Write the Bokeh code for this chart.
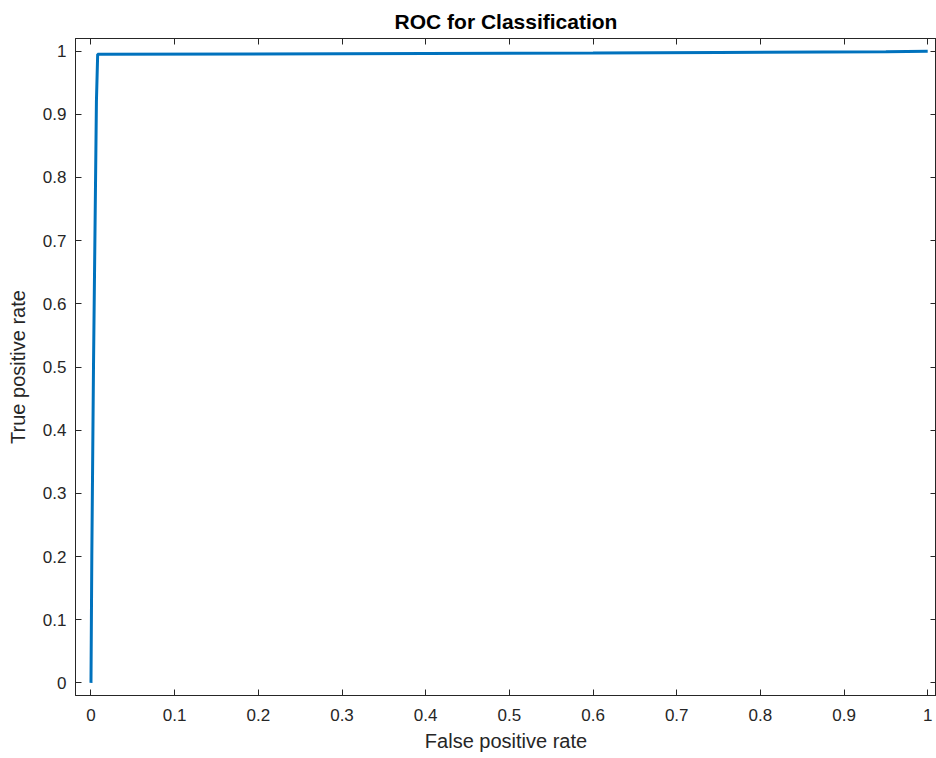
from bokeh.plotting import figure
from bokeh.models import Range1d, LinearAxis, FixedTicker
from bokeh.embed import file_html
from bokeh.resources import INLINE

# ROC curve points (false positive rate, true positive rate)
fpr = [0.0, 0.001, 0.003, 0.0065, 0.008, 0.3, 0.6, 0.75, 0.95, 1.0]
tpr = [0.0, 0.2, 0.5, 0.92, 0.995, 0.996, 0.997, 0.998, 0.999, 1.0]

x_ticks = [0, 0.1, 0.2, 0.3, 0.4, 0.5, 0.6, 0.7, 0.8, 0.9, 1]
x_tick_labels = ["0", "0.1", "0.2", "0.3", "0.4", "0.5", "0.6", "0.7", "0.8", "0.9", "1"]
y_ticks = [0, 0.1, 0.2, 0.3, 0.4, 0.5, 0.6, 0.7, 0.8, 0.9, 1]
y_tick_labels = ["0", "0.1", "0.2", "0.3", "0.4", "0.5", "0.6", "0.7", "0.8", "0.9", "1"]

title_text = "ROC for Classification"
x_label = "False positive rate"
y_label = "True positive rate"

FONT = "Liberation Sans"
AX = "#262626"

p = figure(width=936, height=758, output_backend="svg", toolbar_location=None,
           x_range=Range1d(-0.0185, 1.0105), y_range=Range1d(-0.02, 1.02),
           min_border_left=75, min_border_top=38, min_border_bottom=63, min_border_right=0,
           title=title_text)
p.title.align = "center"
p.title.text_font = FONT
p.title.text_font_size = "21px"
p.title.text_font_style = "bold"
p.title.text_color = "#000000"
p.title.offset = 0
p.title.standoff = 11

p.grid.visible = False
p.outline_line_color = AX
p.outline_line_width = 1
p.outline_line_alpha = 1.0
p.background_fill_color = "white"
p.border_fill_color = "white"

def style_axis(ax, labels, ticks, show_labels=True):
    ax.ticker = FixedTicker(ticks=ticks)
    if show_labels:
        ax.major_label_overrides = {t: l for t, l in zip(ticks, labels)}
    else:
        ax.major_label_overrides = {t: "" for t in ticks}
        ax.major_label_standoff = 0
    ax.minor_tick_line_color = None
    ax.major_tick_in = 6
    ax.major_tick_out = 0
    ax.major_tick_line_color = AX
    ax.axis_line_color = AX
    ax.major_label_text_font = FONT
    ax.major_label_text_color = AX
    ax.axis_label_text_font = FONT
    ax.axis_label_text_color = AX
    ax.axis_label_text_font_style = "normal"

xa = p.xaxis[0]
style_axis(xa, x_tick_labels, x_ticks)
xa.major_label_text_font_size = "17px"
xa.major_label_standoff = 13
xa.axis_label = x_label
xa.axis_label_text_font_size = "20px"
xa.axis_label_standoff = 6

ya = p.yaxis[0]
style_axis(ya, y_tick_labels, y_ticks)
ya.major_label_text_font_size = "17px"
ya.major_label_standoff = 9
ya.axis_label = y_label
ya.axis_label_text_font_size = "20px"
ya.axis_label_standoff = 11

top = LinearAxis()
style_axis(top, x_tick_labels, x_ticks, show_labels=False)
p.add_layout(top, "above")
right = LinearAxis()
style_axis(right, y_tick_labels, y_ticks, show_labels=False)
p.add_layout(right, "right")

p.line(fpr, tpr, line_color="#0072BD", line_width=3)

open("out.html", "w").write(file_html(p, INLINE))
